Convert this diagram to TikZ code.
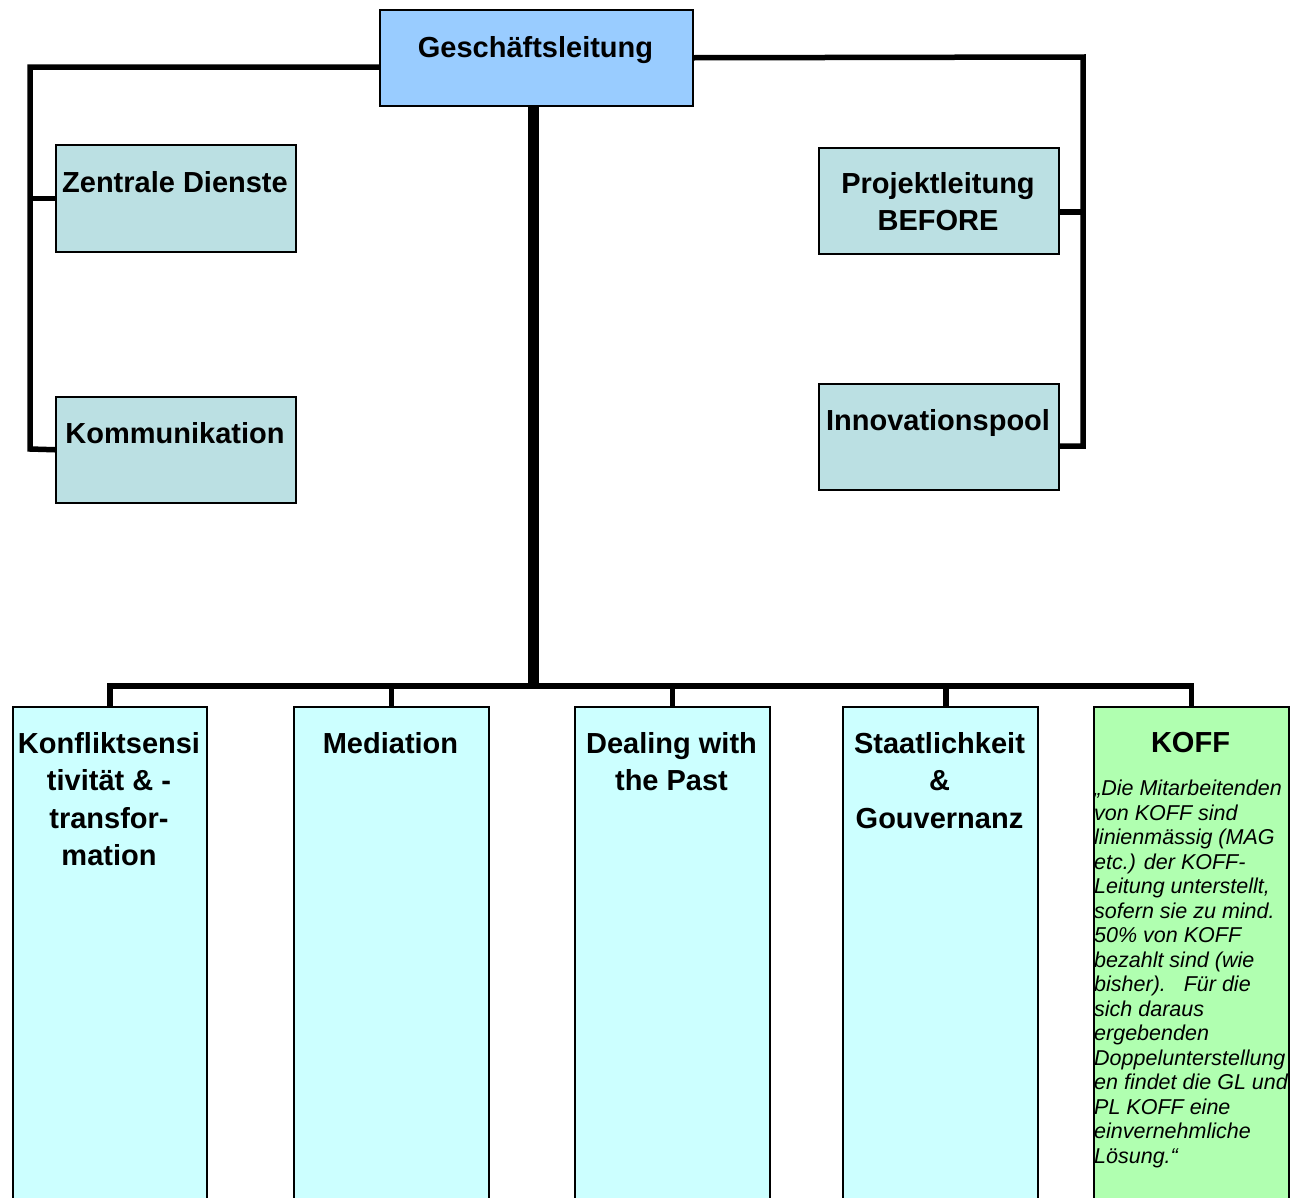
\documentclass[tikz,border=0pt]{standalone}
\usepackage{fontspec}
\setmainfont{Liberation Sans}
\definecolor{glblue}{HTML}{99CCFF}
\definecolor{unitteal}{HTML}{BBE0E3}
\definecolor{cyanbox}{HTML}{CCFFFF}
\definecolor{koffgreen}{HTML}{B0FFB0}
\begin{document}
\begin{tikzpicture}[x=1pt,y=-1pt,
  box/.style={draw=black, line width=1.5pt, inner sep=0pt, anchor=north west, rectangle},
  conn/.style={line width=5.5pt, line cap=butt, line join=miter},
  trunk/.style={line width=11pt, line cap=butt},
  lbl/.style={font=\fontsize{29}{37.5}\selectfont\bfseries, align=center, inner sep=0pt, anchor=north},
  note/.style={font=\fontsize{21.5}{24.5}\selectfont\itshape, align=left, inner sep=0pt, anchor=north west}
]
\useasboundingbox (0,0) rectangle (1298,1197);
\clip (0,0) rectangle (1298,1197);

% boxes
\node[box, fill=glblue, minimum width=313pt, minimum height=96pt] (gl) at (379,9) {};
\node[box, fill=unitteal, minimum width=240pt, minimum height=107pt] (zd) at (55,144) {};
\node[box, fill=unitteal, minimum width=240pt, minimum height=106pt] (kom) at (55,396) {};
\node[box, fill=unitteal, minimum width=240pt, minimum height=106pt] (pl) at (818,147) {};
\node[box, fill=unitteal, minimum width=240pt, minimum height=106pt] (inn) at (818,383) {};

\node[box, fill=cyanbox, minimum width=194pt, minimum height=510pt] (b1) at (12,706) {};
\node[box, fill=cyanbox, minimum width=195pt, minimum height=510pt] (b2) at (293,706) {};
\node[box, fill=cyanbox, minimum width=195pt, minimum height=510pt] (b3) at (574,706) {};
\node[box, fill=cyanbox, minimum width=195pt, minimum height=510pt] (b4) at (842,706) {};
\node[box, fill=koffgreen, minimum width=195pt, minimum height=510pt] (b5) at (1093,706) {};

% labels
\node[lbl] (tgl) at (535.5,36) {Geschäftsleitung};
\node[lbl] (tzd) at (175,171) {Zentrale Dienste};
\node[lbl] (tkom) at (175,422) {Kommunikation};
\node[lbl] (tpl) at (938,172) {Projektleitung\\BEFORE};
\node[lbl] (tinn) at (938,409) {Innovationspool};
\node[lbl] (tb1) at (109,732) {Konfliktsensi\\tivität \& -\\transfor-\\mation};
\node[lbl] (tb2) at (390.5,732) {Mediation};
\node[lbl] (tb3) at (671.5,732) {Dealing with\\the Past};
\node[lbl] (tb4) at (939.5,732) {Staatlichkeit\\\&\\Gouvernanz};
\node[lbl] (tb5) at (1190.5,732) {KOFF};
\node[note] (tkoff) at (1094,780) {„Die Mitarbeitenden\\von KOFF sind\\linienmässig (MAG\\etc.) der KOFF-\\Leitung unterstellt,\\sofern sie zu mind.\\50\% von KOFF\\bezahlt sind (wie\\bisher).\ \ \ Für die\\sich daraus\\ergebenden\\Doppelunterstellung\\en findet die GL und\\PL KOFF eine\\einvernehmliche\\Lösung.“};

% connector coordinates
\coordinate (glL) at (379,67);
\coordinate (cLt) at (30,67);
\coordinate (cLb) at (30,449);
\coordinate (cRt) at (1083,57);
\coordinate (cRb) at (1083,446);
\coordinate (trTop) at (533,105);
\coordinate (bus) at (533,686);

% left branch
\draw[conn] (glL) -- (cLt) -- (cLb) -- (kom.west);
\draw[conn] (zd.west -| cLt) -- (zd.west);
% right branch
\draw[conn] (gl.east) -- (cRt) -- (cRb) -- (cRb -| inn.east);
\draw[conn] ([yshift=-11pt]pl.east) -- ([yshift=-11pt]pl.east -| cRt);
% trunk and bus
\draw[trunk] (trTop) -- ([yshift=-3pt]bus);
\draw[conn] (b1.north) -- (b1.north |- bus) -- (b5.north |- bus) -- (b5.north);
\draw[conn] (b2.north |- bus) -- (b2.north);
\draw[conn] (b3.north |- bus) -- (b3.north);
\coordinate (d4) at (946,686);
\draw[conn] (d4) -- (d4 |- b4.north);
\end{tikzpicture}
\end{document}
